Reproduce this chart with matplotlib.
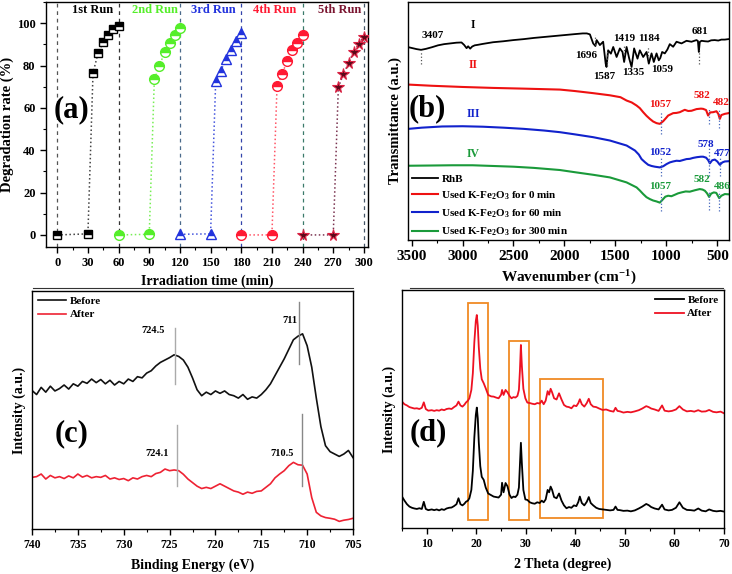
import matplotlib
matplotlib.use("Agg")
import matplotlib.pyplot as plt
from matplotlib.lines import Line2D
from matplotlib.patches import Rectangle
from matplotlib.ticker import MultipleLocator, NullLocator

plt.rcParams['font.family'] = ['Liberation Serif', 'DejaVu Serif']
plt.rcParams['font.weight'] = 'bold'
plt.rcParams['axes.labelweight'] = 'bold'
plt.rcParams['mathtext.fontset'] = 'custom'
plt.rcParams['mathtext.rm'] = 'Liberation Serif:bold'
plt.rcParams['mathtext.it'] = 'Liberation Serif:bold'
plt.rcParams['mathtext.bf'] = 'Liberation Serif:bold'
plt.rcParams['axes.linewidth'] = 1.0

# ---------------- (a) recycling data ----------------
run_labels = ["1st Run", "2nd Run", "3rd Run", "4th Run", "5th Run"]
run1_t = [0, 30, 35, 40, 45, 50, 55, 60]
run1_v = [0, 0.5, 76.5, 86.0, 91.0, 94.5, 97.3, 98.8]
run2_t = [60, 90, 95, 100, 105, 110, 115, 120]
run2_v = [0, 0.3, 73.7, 79.6, 86.6, 90.6, 94.5, 97.5]
run3_t = [120, 150, 155, 160, 165, 170, 175, 180]
run3_v = [0.3, 0.5, 72.5, 77.5, 83.0, 87.5, 91.5, 95.5]
run4_t = [180, 210, 215, 220, 225, 230, 235, 240]
run4_v = [0, 0, 70.1, 76.1, 82.2, 87.4, 90.6, 94.3]
run5_t = [240, 270, 275, 280, 285, 290, 295, 300]
run5_v = [0, 0, 69.7, 76.1, 81.1, 86.6, 90.1, 93.7]
run_bounds = [0, 60, 120, 180, 240, 300]

# ---------------- (b) FTIR data ----------------
rhb_wn = [3530, 3490, 3450, 3407, 3360, 3300, 3240, 3180, 3120, 3060, 3010, 2985, 2960, 2945,
          2925, 2905, 2880, 2850, 2800, 2700, 2600, 2500, 2400, 2300, 2200, 2100, 2000, 1900,
          1820, 1780, 1750, 1718, 1696, 1684, 1652, 1620, 1595, 1587, 1571, 1544, 1521, 1488,
          1456, 1430, 1414, 1390, 1364, 1341, 1316, 1283, 1260, 1227, 1194, 1172, 1145, 1123,
          1096, 1074, 1059, 1041, 1015, 990, 966, 933, 900, 851, 802, 753, 704, 690, 681, 672,
          655, 620, 590, 560, 525, 490, 460, 426, 390]
rhb_t = [81.0, 80.6, 80.2, 79.9, 80.3, 81.0, 81.8, 82.3, 82.6, 82.9, 83.0, 82.0, 80.6, 81.4,
         80.4, 81.3, 81.8, 82.0, 82.4, 83.1, 83.5, 84.0, 84.4, 84.9, 85.3, 85.7, 86.1, 86.5,
         86.8, 86.8, 86.4, 82.6, 81.5, 84.0, 81.9, 83.3, 74.0, 72.7, 79.7, 78.3, 81.1, 76.9,
         80.5, 79.0, 74.8, 81.1, 76.2, 72.7, 80.5, 76.2, 79.7, 76.9, 79.0, 74.1, 78.4, 74.8,
         78.4, 75.5, 76.5, 79.0, 78.4, 80.0, 82.3, 81.2, 83.3, 82.6, 83.7, 83.3, 84.0, 83.6,
         79.0, 83.2, 83.7, 83.5, 83.4, 83.9, 84.0, 83.8, 84.2, 84.2, 84.4]

u0_wn = [3530, 3300, 3000, 2700, 2400, 2044, 1900, 1718, 1554, 1450, 1390, 1340, 1292, 1260,
         1227, 1195, 1162, 1130, 1096, 1064, 1031, 1000, 982, 933, 900, 868, 819, 785, 753,
         704, 660, 639, 610, 590, 570, 541, 508, 490, 475, 460, 426, 390]
u0_t = [65.3, 64.8, 64.3, 63.9, 63.6, 63.2, 62.6, 61.7, 60.8, 60.0, 58.6, 57.8, 56.5, 55.4,
        53.7, 52.2, 50.9, 49.8, 49.1, 48.8, 49.9, 51.4, 52.3, 53.3, 53.4, 53.7, 54.7, 54.2, 54.3,
        55.0, 55.2, 55.1, 54.6, 52.3, 53.6, 53.7, 54.1, 53.0, 50.9, 52.5, 53.0, 53.3]

u60_wn = [3530, 3400, 3200, 3000, 2800, 2600, 2400, 2200, 2044, 1900, 1718, 1554, 1390, 1308,
          1270, 1243, 1210, 1178, 1145, 1112, 1080, 1064, 1030, 998, 966, 933, 900, 868, 835,
          802, 770, 737, 700, 660, 639, 610, 590, 573, 550, 524, 500, 475, 450, 426, 390]
u60_t = [46.7, 47.2, 47.7, 47.8, 47.6, 47.2, 46.7, 46.0, 45.3, 44.4, 43.2, 41.8, 39.7, 37.6,
         35.9, 34.0, 32.7, 31.6, 31.1, 30.8, 30.6, 30.5, 31.0, 31.9, 32.6, 33.0, 33.3, 33.2, 33.6,
         34.0, 34.1, 34.5, 34.8, 35.0, 35.0, 34.6, 33.6, 32.2, 33.5, 33.8, 33.0, 31.6, 32.6, 33.0, 33.1]

u300_wn = [3530, 3300, 3100, 2900, 2700, 2500, 2300, 2044, 1900, 1718, 1554, 1390, 1292, 1260,
           1227, 1195, 1162, 1130, 1096, 1064, 1031, 1010, 982, 950, 917, 885, 851, 810, 770,
           720, 672, 645, 622, 600, 580, 560, 534, 510, 481, 460, 426, 390]
u300_t = [31.2, 31.3, 31.4, 31.4, 31.1, 30.8, 30.3, 29.4, 28.5, 27.4, 26.3, 24.2, 22.1, 20.8,
          19.3, 18.0, 17.2, 16.6, 16.2, 15.7, 17.2, 18.2, 18.6, 18.4, 19.0, 19.6, 20.0, 20.4, 20.3,
          20.9, 21.4, 21.2, 20.7, 19.6, 18.1, 19.5, 20.0, 19.8, 17.6, 18.6, 19.3, 19.2]

ir_labels = ["RhB", "Used K-Fe$_2$O$_3$ for 0 min", "Used K-Fe$_2$O$_3$ for 60 min",
             "Used K-Fe$_2$O$_3$ for 300 min"]

# ---------------- (c) XPS data ----------------
be = [740.0, 739.5, 739.0, 738.5, 738.0, 737.5, 737.0, 736.5, 736.0, 735.5, 735.0, 734.5, 734.0,
      733.5, 733.0, 732.5, 732.0, 731.5, 731.0, 730.5, 730.0, 729.5, 729.0, 728.5, 728.0, 727.5,
      727.0, 726.5, 726.0, 725.5, 725.0, 724.5, 724.0, 723.5, 723.0, 722.5, 722.0, 721.5, 721.0,
      720.5, 720.0, 719.5, 719.0, 718.5, 718.0, 717.5, 717.0, 716.5, 716.0, 715.5, 715.0, 714.5,
      714.0, 713.5, 713.0, 712.5, 712.0, 711.5, 711.0, 710.5, 710.0, 709.5, 709.0, 708.5, 708.0,
      707.5, 707.0, 706.5, 706.0, 705.5, 705.0]
xps_before = [58.2, 56.5, 59.5, 57.5, 60.0, 58.0, 59.0, 60.5, 58.8, 61.0, 60.0, 62.0, 61.2,
              63.0, 61.5, 62.8, 61.0, 62.5, 60.5, 62.0, 61.0, 63.0, 62.0, 64.0, 63.5, 65.5,
              66.5, 68.5, 70.0, 71.0, 72.0, 73.2, 72.5, 71.0, 68.0, 63.5, 58.5, 56.0, 57.5,
              56.5, 58.0, 57.0, 58.0, 56.5, 56.0, 55.0, 56.5, 54.5, 55.5, 55.0, 56.5, 58.5,
              61.0, 64.5, 68.0, 71.5, 75.5, 79.5, 81.0, 82.0, 77.0, 68.0, 55.0, 43.0, 35.0,
              32.5, 31.5, 30.5, 31.5, 33.0, 30.0]
xps_after = [21.7, 22.0, 23.1, 21.0, 22.5, 21.5, 22.0, 21.2, 22.3, 21.5, 23.1, 21.8, 22.5,
             21.5, 22.0, 21.7, 22.5, 21.0, 21.5, 20.8, 21.2, 20.3, 21.5, 21.0, 22.0, 22.5,
             22.0, 23.3, 23.8, 25.2, 24.5, 24.8, 24.5, 23.0, 21.0, 19.5, 18.0, 17.0, 17.5,
             17.0, 18.0, 19.0, 18.0, 17.0, 16.0, 15.5, 14.6, 15.5, 15.0, 15.8, 16.0, 17.5,
             19.0, 21.5, 23.1, 24.5, 26.6, 28.0, 27.0, 26.8, 23.1, 13.2, 7.0, 5.5, 4.8,
             4.5, 4.1, 3.2, 3.7, 4.0, 4.5]

# ---------------- (d) XRD data ----------------
two_theta = [5.0, 5.5, 6.0, 6.5, 7.0, 7.5, 8.0, 8.5, 9.0, 9.4, 9.8, 10.3, 11.0, 11.5, 12.0, 12.5,
             13.0, 13.5, 14.0, 14.5, 15.0, 15.5, 16.0, 16.4, 16.8, 17.2, 17.6, 17.9, 18.3, 18.6,
             19.0, 19.3, 19.6, 19.9, 20.1, 20.3, 20.5, 20.8, 21.1, 21.5, 21.9, 22.4, 23.0, 23.5,
             24.0, 24.5, 25.0, 25.2, 25.5, 25.9, 26.3, 26.7, 27.1, 27.5, 27.9, 28.3, 28.6, 28.8,
             29.0, 29.2, 29.5, 29.9, 30.3, 30.8, 31.3, 31.8, 32.3, 32.8, 33.2, 33.6, 34.0, 34.4,
             34.7, 35.0, 35.3, 35.7, 36.2, 36.7, 37.2, 37.7, 38.2, 38.7, 39.2, 39.7, 40.2, 40.6,
             40.9, 41.3, 41.8, 42.3, 42.7, 43.1, 43.6, 44.2, 44.8, 45.5, 46.2, 47.0, 47.7, 48.1,
             48.5, 49.0, 49.7, 50.5, 51.2, 52.0, 52.8, 53.5, 54.3, 54.8, 55.3, 56.0, 56.8, 57.5,
             58.0, 58.8, 59.5, 60.3, 61.0, 61.7, 62.5, 63.3, 64.0, 64.8, 65.5, 66.3, 67.0, 67.8,
             68.5, 69.3, 70.0]
xrd_after = [53.1, 52.0, 51.5, 50.8, 50.5, 50.2, 50.3, 50.0, 50.5, 52.8, 50.0, 49.3, 49.5, 49.2,
             49.5, 49.3, 49.8, 49.5, 50.0, 50.2, 50.0, 50.8, 51.5, 53.1, 51.5, 51.0, 51.8, 52.7,
             53.5, 54.5, 58.0, 65.0, 78.0, 87.0, 89.5, 85.0, 76.0, 67.0, 62.5, 60.8, 58.7, 55.9,
             55.3, 55.2, 54.8, 54.5, 56.0, 58.0, 55.9, 58.0, 57.0, 55.5, 54.5, 55.0, 54.8, 55.5,
             58.0, 66.0, 76.9, 68.0, 58.5, 54.5, 52.7, 52.5, 52.2, 52.0, 52.5, 52.3, 53.5, 52.0,
             53.5, 57.5, 56.0, 58.5, 57.0, 54.5, 54.0, 56.6, 54.0, 51.7, 51.0, 50.8, 50.3, 51.5,
             51.2, 52.5, 54.1, 52.0, 51.0, 52.5, 54.3, 52.0, 51.0, 50.8, 50.2, 49.6, 49.8, 49.2,
             48.9, 50.5, 49.2, 49.0, 48.5, 48.8, 48.6, 49.0, 49.5, 50.2, 51.2, 50.8, 50.2, 49.8,
             49.2, 51.5, 49.3, 49.0, 49.2, 49.8, 51.2, 49.8, 49.0, 49.2, 48.9, 49.5, 48.9, 49.0,
             49.6, 48.8, 48.6, 48.9, 48.2]
xrd_before = [13.2, 11.5, 10.0, 9.0, 8.5, 8.2, 8.0, 8.3, 8.0, 11.0, 8.0, 7.5, 7.8, 7.5, 7.8,
              7.4, 7.9, 7.6, 8.2, 8.5, 8.6, 9.2, 10.0, 12.5, 10.0, 9.5, 10.2, 11.0, 11.5, 12.5,
              16.0, 24.0, 38.0, 47.5, 50.6, 46.0, 36.0, 26.0, 21.5, 20.2, 17.0, 14.5, 13.8, 13.2,
              13.0, 12.8, 14.0, 19.0, 15.0, 18.9, 17.5, 14.0, 12.6, 13.2, 13.0, 14.0, 17.0, 26.0,
              35.8, 27.0, 16.0, 12.0, 11.8, 10.8, 10.4, 10.2, 10.8, 10.5, 11.5, 10.8, 12.0, 16.0,
              15.0, 17.4, 16.0, 13.0, 12.5, 14.5, 11.5, 9.5, 8.3, 8.8, 8.5, 9.5, 9.2, 11.0, 13.2,
              10.5, 9.5, 11.0, 13.0, 10.5, 9.5, 8.5, 8.0, 7.8, 7.6, 7.4, 7.6, 9.0, 7.6, 7.5, 7.2,
              7.3, 7.0, 7.4, 8.2, 9.0, 10.1, 9.6, 8.8, 8.2, 7.8, 9.8, 7.8, 7.4, 7.6, 8.5, 10.8,
              8.5, 7.6, 7.5, 7.3, 8.2, 7.3, 7.0, 7.8, 7.2, 7.0, 7.2, 6.9]

W, H = 732, 574
fig = plt.figure(figsize=(W / 100, H / 100), dpi=100)


def rect(l, t, r, b):
    return [l / W, 1 - b / H, (r - l) / W, (b - t) / H]


# ======================= (a) =======================
ax = fig.add_axes(rect(46, 2, 368, 247))
runs = [(run1_t, run1_v), (run2_t, run2_v), (run3_t, run3_v), (run4_t, run4_v), (run5_t, run5_v)]
mcolors = ['black', '#55ee2a', '#2233dd', '#ff1a33', '#7a1530']
lcolors = ['#444444', '#77ee55', '#4455dd', '#ff5566', '#7a3350']
markers = ['s', 'o', '^', 'o', '*']
msizes = [6, 7, 7.5, 7, 8.5]
vcol = ['#555555', '#333333', '#4a6a8a', '#3344aa', '#3a7a6a', '#445566']
for xb, c in zip(run_bounds, vcol):
    ax.axvline(xb, ls=(0, (3, 3)), lw=0.9, color=c, zorder=1)
lab_x = [35, 96, 153, 213, 276]
for i, (t, v) in enumerate(runs):
    ax.plot(t, v, ls=':', lw=1.1, color=lcolors[i], zorder=2)
    if markers[i] == '*':
        ax.plot(t, v, ls='none', marker='*', ms=msizes[i], mfc='#5a0a1a', mec='#dd2244',
                mew=0.8, zorder=3)
    else:
        ax.plot(t, v, ls='none', marker=markers[i], ms=msizes[i], fillstyle='top',
                mfc=mcolors[i], mfcalt='white', mec=mcolors[i], mew=1.0, zorder=3)
    ax.text(lab_x[i], 106, run_labels[i], color=mcolors[i], fontsize=9, ha='center',
            va='center', fontweight='bold')
ax.set_xlim(-11, 304)
ax.set_ylim(-5.7, 110)
ax.set_xticks(run_bounds + [30, 90, 150, 210, 270])
ax.xaxis.set_minor_locator(MultipleLocator(15))
ax.set_yticks([0, 20, 40, 60, 80, 100])
ax.yaxis.set_minor_locator(MultipleLocator(10))
ax.tick_params(axis='both', which='major', labelsize=9, length=4, width=1)
ax.tick_params(axis='both', which='minor', length=2.5, width=0.8)
ax.set_xlabel("Irradiation time (min)", fontsize=10, labelpad=4)
ax.set_ylabel("Degradation rate (%)", fontsize=10.5, labelpad=2)
ax.text(13.7, 59, "(a)", fontsize=22, fontweight='bold', ha='center', va='center')

# ======================= (b) =======================
bx = fig.add_axes(rect(408, 2, 729, 240))
bx.plot(rhb_wn, rhb_t, color='black', lw=1.3, label=ir_labels[0])
bx.plot(u0_wn, u0_t, color='#ee1111', lw=1.5, label=ir_labels[1])
bx.plot(u60_wn, u60_t, color='#1122cc', lw=1.5, label=ir_labels[2])
bx.plot(u300_wn, u300_t, color='#1a9a3a', lw=1.5, label=ir_labels[3])
bx.set_xlim(3535, 385)
bx.set_ylim(0, 100)
bx.set_xticks([3500, 3000, 2500, 2000, 1500, 1000, 500])
bx.xaxis.set_minor_locator(MultipleLocator(250))
bx.yaxis.set_major_locator(NullLocator())
bx.tick_params(axis='x', which='major', labelsize=11, length=4, width=1)
bx.tick_params(axis='x', which='minor', length=2.5, width=0.8)
bx.set_xlabel("Wavenumber (cm$^{-1}$)", fontsize=11, labelpad=4)
bx.set_ylabel("Transmittance (a.u.)", fontsize=10.5, labelpad=4)
bx.text(3348, 55, "(b)", fontsize=22, fontweight='bold', ha='center', va='center')
dotc = '#4466bb'
for wn, y0, y1 in [(3407, 74, 79), (1696, 82, 86), (1587, 73, 80), (1419, 78, 82),
                   (1184, 76, 81), (681, 74, 80)]:
    bx.plot([wn, wn], [y0, y1], ls=':', lw=0.9, color='#555555')
for txt, x, y in [("3407", 3290, 86), ("1696", 1789, 77.6), ("1587", 1610, 68.5),
                  ("1419", 1416, 84.7), ("1335", 1325, 70.2), ("1184", 1172, 84.7),
                  ("1059", 1040, 71.6), ("681", 672, 87.5)]:
    bx.text(x, y, txt, fontsize=8, ha='center', va='center', color='black')
bx.text(2894, 90.3, "I", fontsize=8.5, color='black', ha='center', va='center')
bx.text(2894, 73.4, "II", fontsize=8.5, color='#ee1111', ha='center', va='center')
bx.text(2894, 53.0, "III", fontsize=8.5, color='#1122cc', ha='center', va='center')
bx.text(2894, 36.2, "IV", fontsize=8.5, color='#1a9a3a', ha='center', va='center')
for wn, y0, y1 in [(1057, 44.6, 53.7), (582, 48.8, 55.5), (482, 47, 55),
                   (1052, 27, 34.7), (578, 27, 38.7), (477, 27, 34.5),
                   (1057, 12.2, 20.7), (582, 12.7, 21.1), (486, 12.2, 20.5)]:
    bx.plot([wn, wn], [y0, y1], ls=':', lw=0.9, color=dotc)
for txt, x, y, c in [("1057", 1064, 57.0, '#ee1111'), ("582", 655, 60.8, '#ee1111'),
                     ("482", 460, 57.9, '#ee1111'),
                     ("1052", 1058, 36.8, '#1122cc'), ("578", 616, 40.1, '#1122cc'),
                     ("477", 450, 36.2, '#1122cc'),
                     ("1057", 1064, 22.4, '#1a9a3a'), ("582", 655, 25.6, '#1a9a3a'),
                     ("486", 450, 22.4, '#1a9a3a')]:
    bx.text(x, y, txt, fontsize=8, ha='center', va='center', color=c)
bx.legend(loc='lower left', bbox_to_anchor=(0.0, -0.01), frameon=False, fontsize=8,
          handlelength=2.3, handletextpad=0.3, labelspacing=0.5, borderaxespad=0.2,
          borderpad=0.2)

# ======================= (c) =======================
cx = fig.add_axes(rect(32, 291, 353, 529))
cx.plot(be, xps_before, color='#111111', lw=1.2, label="Before")
cx.plot(be, xps_after, color='#ee2233', lw=1.2, label="After")
cx.set_xlim(740, 705)
cx.set_ylim(0, 100)
cx.set_xticks([740, 735, 730, 725, 720, 715, 710, 705])
cx.xaxis.set_minor_locator(MultipleLocator(2.5))
cx.yaxis.set_major_locator(NullLocator())
cx.tick_params(axis='x', which='major', labelsize=8.5, length=4, width=1)
cx.tick_params(axis='x', which='minor', length=2.5, width=0.8)
cx.set_xlabel("Binding Energy (eV)", fontsize=10, labelpad=5)
cx.set_ylabel("Intensity (a.u.)", fontsize=10, labelpad=4)
for x, y0, y1, c in [(724.4, 61.0, 84.3, '#aaaaaa'), (710.9, 69.5, 95.5, '#888888'),
                     (724.2, 18.1, 43.5, '#aaaaaa'), (710.6, 18.1, 48.4, '#888888')]:
    cx.plot([x, x], [y0, y1], color=c, lw=1.0)
for txt, x, y in [("724.5", 726.8, 83.3), ("711", 711.9, 87.8), ("724.1", 726.4, 31.8),
                  ("710.5", 712.7, 31.8)]:
    cx.text(x, y, txt, fontsize=7.5, ha='center', va='center')
cx.text(735.7, 40, "(c)", fontsize=22, fontweight='bold', ha='center', va='center')
cx.legend(loc='upper left', frameon=False, fontsize=8, handlelength=2.6, handletextpad=0.3,
          labelspacing=0.3, borderaxespad=0.3, borderpad=0.2)

# ======================= (d) =======================
dx = fig.add_axes(rect(402, 290, 724, 528))
dx.plot(two_theta, xrd_before, color='black', lw=1.3, label="Before")
dx.plot(two_theta, xrd_after, color='#ee1122', lw=1.3, label="After")
dx.set_xlim(5, 70)
dx.set_ylim(0, 100)
dx.set_xticks([10, 20, 30, 40, 50, 60, 70])
dx.xaxis.set_minor_locator(MultipleLocator(5))
dx.yaxis.set_major_locator(NullLocator())
dx.tick_params(axis='x', which='major', labelsize=8.5, length=4, width=1)
dx.tick_params(axis='x', which='minor', length=2.5, width=0.8)
dx.set_xlabel("2 Theta (degree)", fontsize=10, labelpad=5)
dx.set_ylabel("Intensity (a.u.)", fontsize=10, labelpad=4)
for (x0, x1, y0, y1) in [(18.3, 22.4, 3.4, 94.5), (26.6, 30.7, 3.4, 78.6), (32.9, 45.6, 4.2, 62.6)]:
    dx.add_patch(Rectangle((x0, y0), x1 - x0, y1 - y0, fill=False, ec='#f08a24', lw=1.3))
dx.text(10.3, 40, "(d)", fontsize=22, fontweight='bold', ha='center', va='center')
dx.legend(loc='upper right', frameon=False, fontsize=8, handlelength=2.6, handletextpad=0.3,
          labelspacing=0.3, borderaxespad=0.3, borderpad=0.2)

# panel frame remnants
fig.add_artist(Line2D([33 / W, 353 / W], [1 - 288 / H, 1 - 288 / H], color='#333333', lw=0.8))
fig.add_artist(Line2D([410 / W, 723 / W], [1 - 288 / H, 1 - 288 / H], color='#333333', lw=0.8))

fig.savefig("out.png", dpi=100)
